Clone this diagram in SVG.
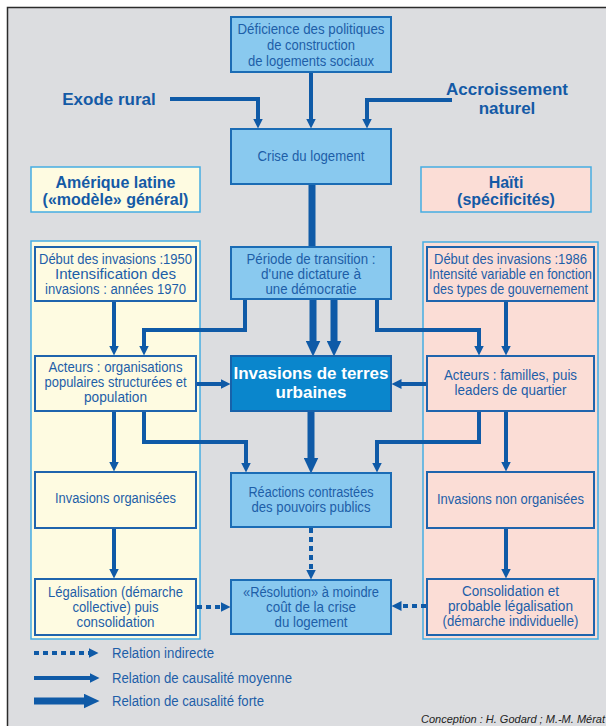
<svg xmlns="http://www.w3.org/2000/svg" width="606" height="726" viewBox="0 0 606 726">
<defs>
<style>
.t{font-family:"Liberation Sans",Arial,sans-serif;font-size:14px;fill:#1d5ea8;text-anchor:middle}
.b{font-family:"Liberation Sans",Arial,sans-serif;font-weight:bold;font-size:16px;fill:#145aa6;text-anchor:middle}
.w{font-family:"Liberation Sans",Arial,sans-serif;font-weight:bold;font-size:17px;fill:#ffffff;text-anchor:middle}
.lt{font-family:"Liberation Sans",Arial,sans-serif;font-size:14px;fill:#1d5ea8}
.cr{font-family:"Liberation Sans",Arial,sans-serif;font-style:italic;font-size:11px;fill:#222;text-anchor:end}
.lb{fill:#89c9ef;stroke:#1b6cb5;stroke-width:2}
.yb{fill:#fefbe1;stroke:#1f64ad;stroke-width:2}
.pb{fill:#fbddd6;stroke:#1f64ad;stroke-width:2}
.yp{fill:#fefbe1;stroke:#45ade2;stroke-width:1.5}
.pp{fill:#fbddd6;stroke:#45ade2;stroke-width:1.5}
.m{fill:none;stroke:#0f5aa7;stroke-width:4;marker-end:url(#am)}
.k{fill:none;stroke:#0f5aa7;stroke-width:7;marker-end:url(#ak)}
.kn{fill:none;stroke:#0f5aa7;stroke-width:7}
.d{fill:none;stroke:#0f5aa7;stroke-width:4;stroke-dasharray:5 4;marker-end:url(#am)}
</style>
<marker id="am" markerUnits="userSpaceOnUse" viewBox="0 0 10 10" refX="0.5" refY="5" markerWidth="10" markerHeight="10" orient="auto"><path d="M0,0 L10,5 L0,10 z" fill="#0f5aa7"/></marker>
<marker id="ak" markerUnits="userSpaceOnUse" viewBox="0 0 16 15" refX="0.5" refY="7.5" markerWidth="16" markerHeight="15" orient="auto"><path d="M0,0 L16,7.5 L0,15 z" fill="#0f5aa7"/></marker>
</defs>
<rect x="0" y="0" width="606" height="726" fill="#ffffff"/>
<rect x="7.5" y="7.5" width="700" height="800" fill="#dcdde0" stroke="#2b2b2b" stroke-width="1.5"/>

<g id="panel-amerique"><rect class="yp" x="31" y="241" width="169" height="398"/></g>
<g id="panel-haiti"><rect class="pp" x="423" y="242" width="175" height="397"/></g>

<g id="connectors">
<path class="m" d="M311,72 V119"/>
<path class="m" d="M170,99 H258 V119"/>
<path class="m" d="M452,100 H367 V119"/>
<path class="kn" d="M312,184 V248"/>
<path class="k" d="M313,299 V341"/>
<path class="k" d="M334,299 V341"/>
<path class="m" d="M114,301 V346"/>
<path class="m" d="M245,299 V330 H144 V346"/>
<path class="m" d="M506,301 V346"/>
<path class="m" d="M377,299 V330 H479 V346"/>
<path class="m" d="M196,384 H221"/>
<path class="m" d="M427,384 H401"/>
<path class="m" d="M114,411 V462"/>
<path class="m" d="M144,411 V442 H246 V463"/>
<path class="m" d="M479,411 V442 H377 V463"/>
<path class="m" d="M506,411 V462"/>
<path class="k" d="M311,411 V458"/>
<path class="m" d="M114,528 V569"/>
<path class="m" d="M506,528 V569"/>
<path class="d" d="M311,528 V570"/>
<path class="d" d="M197,607 H221"/>
<path class="d" d="M426,606 H401"/>
</g>

<g id="deficience"><rect class="lb" x="231" y="17" width="160" height="55"/>
<text class="t" x="311" y="34" textLength="147" lengthAdjust="spacingAndGlyphs">Déficience des politiques</text>
<text class="t" x="311" y="50" textLength="88" lengthAdjust="spacingAndGlyphs">de construction</text>
<text class="t" x="311" y="66" textLength="126" lengthAdjust="spacingAndGlyphs">de logements sociaux</text></g>

<g id="exode"><text class="b" x="109" y="105" style="font-size:17px">Exode rural</text></g>
<g id="accroissement"><text class="b" x="507" y="95" style="font-size:17px">Accroissement</text>
<text class="b" x="507" y="114" style="font-size:17px">naturel</text></g>

<g id="crise"><rect class="lb" x="231" y="129" width="160" height="55"/>
<text class="t" x="311" y="161" textLength="107" lengthAdjust="spacingAndGlyphs">Crise du logement</text></g>

<g id="amerique-titre"><rect x="31" y="167" width="169" height="45" fill="#fefbe1" stroke="#45ade2" stroke-width="1.5"/>
<text class="b" x="115.5" y="188">Amérique latine</text>
<text class="b" x="115.5" y="205">(«modèle» général)</text></g>

<g id="haiti-titre"><rect x="421" y="167" width="170" height="45" fill="#fbddd6" stroke="#45ade2" stroke-width="1.5"/>
<text class="b" x="506" y="188">Haïti</text>
<text class="b" x="506" y="205">(spécificités)</text></g>

<g id="debut-al"><rect class="yb" x="35" y="247" width="161" height="54"/>
<text class="t" x="115.5" y="264" textLength="153" lengthAdjust="spacingAndGlyphs">Début des invasions :1950</text>
<text class="t" x="115.5" y="279" textLength="121" lengthAdjust="spacingAndGlyphs">Intensification des</text>
<text class="t" x="115.5" y="294" textLength="141" lengthAdjust="spacingAndGlyphs">invasions : années 1970</text></g>

<g id="periode"><rect class="lb" x="231" y="247" width="160" height="52"/>
<text class="t" x="311" y="264" textLength="129" lengthAdjust="spacingAndGlyphs">Période de transition :</text>
<text class="t" x="311" y="279" textLength="100" lengthAdjust="spacingAndGlyphs">d'une dictature à</text>
<text class="t" x="311" y="294" textLength="91" lengthAdjust="spacingAndGlyphs">une démocratie</text></g>

<g id="debut-haiti"><rect class="pb" x="427" y="247" width="167" height="54"/>
<text class="t" x="510.5" y="264" textLength="153" lengthAdjust="spacingAndGlyphs">Début des invasions :1986</text>
<text class="t" x="510.5" y="279" textLength="163" lengthAdjust="spacingAndGlyphs">Intensité variable en fonction</text>
<text class="t" x="510.5" y="294" textLength="155" lengthAdjust="spacingAndGlyphs">des types de gouvernement</text></g>

<g id="acteurs-al"><rect class="yb" x="35" y="356" width="161" height="55"/>
<text class="t" x="115.5" y="372" textLength="134" lengthAdjust="spacingAndGlyphs">Acteurs : organisations</text>
<text class="t" x="115.5" y="387" textLength="142" lengthAdjust="spacingAndGlyphs">populaires structurées et</text>
<text class="t" x="115.5" y="402" textLength="63" lengthAdjust="spacingAndGlyphs">population</text></g>

<g id="invasions"><rect x="231" y="356" width="160" height="55" fill="#0a86cc" stroke="#1762aa" stroke-width="2"/>
<text class="w" x="311" y="379">Invasions de terres</text>
<text class="w" x="311" y="398">urbaines</text></g>

<g id="acteurs-haiti"><rect class="pb" x="427" y="356" width="167" height="55"/>
<text class="t" x="510.5" y="380" textLength="133" lengthAdjust="spacingAndGlyphs">Acteurs : familles, puis</text>
<text class="t" x="510.5" y="395" textLength="112" lengthAdjust="spacingAndGlyphs">leaders de quartier</text></g>

<g id="inv-org"><rect class="yb" x="35" y="472" width="161" height="56"/>
<text class="t" x="115.5" y="503" textLength="121" lengthAdjust="spacingAndGlyphs">Invasions organisées</text></g>

<g id="reactions"><rect class="lb" x="231" y="473" width="160" height="54"/>
<text class="t" x="311" y="497" textLength="125" lengthAdjust="spacingAndGlyphs">Réactions contrastées</text>
<text class="t" x="311" y="512" textLength="119" lengthAdjust="spacingAndGlyphs">des pouvoirs publics</text></g>

<g id="inv-non-org"><rect class="pb" x="427" y="472" width="167" height="56"/>
<text class="t" x="510.5" y="504" textLength="147" lengthAdjust="spacingAndGlyphs">Invasions non organisées</text></g>

<g id="legalisation"><rect class="yb" x="35" y="579" width="161" height="56"/>
<text class="t" x="115.5" y="597" textLength="135" lengthAdjust="spacingAndGlyphs">Légalisation (démarche</text>
<text class="t" x="115.5" y="612" textLength="86" lengthAdjust="spacingAndGlyphs">collective) puis</text>
<text class="t" x="115.5" y="627" textLength="78" lengthAdjust="spacingAndGlyphs">consolidation</text></g>

<g id="resolution"><rect class="lb" x="231" y="580" width="160" height="54"/>
<text class="t" x="311" y="597" textLength="136" lengthAdjust="spacingAndGlyphs">«Résolution» à moindre</text>
<text class="t" x="311" y="612" textLength="90" lengthAdjust="spacingAndGlyphs">coût de la crise</text>
<text class="t" x="311" y="627" textLength="73" lengthAdjust="spacingAndGlyphs">du logement</text></g>

<g id="consolidation"><rect class="pb" x="427" y="579" width="167" height="56"/>
<text class="t" x="510.5" y="596" textLength="97" lengthAdjust="spacingAndGlyphs">Consolidation et</text>
<text class="t" x="510.5" y="611" textLength="125" lengthAdjust="spacingAndGlyphs">probable légalisation</text>
<text class="t" x="510.5" y="626" textLength="136" lengthAdjust="spacingAndGlyphs">(démarche individuelle)</text></g>

<g id="legend">
<path class="d" d="M34,653 H89"/>
<path class="m" d="M34,678 H90"/>
<path class="k" d="M34,701 H84"/>
<text class="lt" x="112" y="658" textLength="102" lengthAdjust="spacingAndGlyphs">Relation indirecte</text>
<text class="lt" x="112" y="683" textLength="180" lengthAdjust="spacingAndGlyphs">Relation de causalité moyenne</text>
<text class="lt" x="112" y="706" textLength="152" lengthAdjust="spacingAndGlyphs">Relation de causalité forte</text>
</g>
<text class="cr" x="605" y="723">Conception : H. Godard ; M.-M. Mérat</text>
</svg>
